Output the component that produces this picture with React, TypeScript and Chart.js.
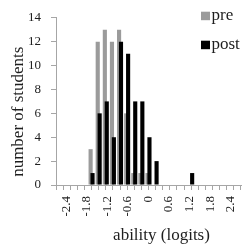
import React, { useEffect, useRef } from 'react';
import { Chart, registerables } from 'chart.js';

Chart.register(...registerables);

// ---- data ----
const binCenters = [
  -2.304, -2.112, -1.92, -1.728, -1.536, -1.344, -1.152, -0.96, -0.768, -0.576,
  -0.384, -0.192, 0, 0.192, 0.384, 0.576, 0.768, 0.96, 1.152, 1.344,
  1.536, 1.728, 1.92, 2.112, 2.304,
];
const preCounts = [0, 0, 0, 0, 3, 12, 13, 12, 13, 6, 1, 1, 1, 0, 0, 0, 0, 0, 0, 0, 0, 0, 0, 0, 0];
const postCounts = [0, 0, 0, 0, 1, 6, 7, 4, 12, 11, 7, 7, 4, 2, 0, 0, 0, 0, 1, 0, 0, 0, 0, 0, 0];
const seriesNames = ['pre', 'post'];
const xTickValues = [-2.4, -1.8, -1.2, -0.6, 0, 0.6, 1.2, 1.8, 2.4];
const xTickLabels = ['-2.4', '-1.8', '-1.2', '-0.6', '0', '0.6', '1.2', '1.8', '2.4'];
const yTickValues = [0, 2, 4, 6, 8, 10, 12, 14];
const xTitle = 'ability (logits)';
const yTitle = 'number of students';

// ---- styles ----
const FONT_FAMILY = '"Liberation Serif", "Times New Roman", serif';
const TEXT_COLOR = '#1e1e1e';
const AXIS_COLOR = '#a6a6a6';
const PRE_COLOR = '#9b9b9b';
const POST_COLOR = '#000000';
const X_MIN = -2.4;
const X_MAX = 2.4;

// bin edges (tick marks) derived from bin centres
function binEdges(): number[] {
  const edges: number[] = [X_MIN];
  for (let i = 1; i < binCenters.length; i++) {
    edges.push((binCenters[i - 1] + binCenters[i]) / 2);
  }
  edges.push(X_MAX);
  return edges;
}

// draw datasets in index order so the later (post) series lies on top
const drawOrderPlugin = {
  id: 'drawOrder',
  beforeDatasetsDraw(chart: any) {
    const metas = chart.getSortedVisibleDatasetMetas();
    for (const m of metas) m.controller.draw();
    return false;
  },
};

const legendPlugin = {
  id: 'cornerLegend',
  afterDraw(chart: any) {
    const ctx = chart.ctx;
    ctx.save();
    ctx.font = `17px ${FONT_FAMILY}`;
    ctx.textBaseline = 'alphabetic';
    ctx.textAlign = 'left';
    chart.data.datasets.forEach((ds: any, i: number) => {
      const top = 11.7 + i * 29;
      ctx.fillStyle = ds.backgroundColor;
      ctx.fillRect(201, top, 9, 8.5);
      ctx.fillStyle = TEXT_COLOR;
      ctx.fillText(ds.label, 211.5, top + 8.7);
    });
    ctx.restore();
  },
};

const titlesPlugin = {
  id: 'axisTitles',
  afterDraw(chart: any) {
    const ctx = chart.ctx;
    ctx.save();
    ctx.font = `17px ${FONT_FAMILY}`;
    ctx.fillStyle = TEXT_COLOR;
    ctx.textAlign = 'center';
    ctx.textBaseline = 'alphabetic';
    ctx.fillText(xTitle, 161.5, 240);
    ctx.translate(22.8, 111.7);
    ctx.rotate(-Math.PI / 2);
    ctx.fillText(yTitle, 0, 0);
    ctx.restore();
  },
};

export default function App() {
  const canvasRef = useRef<HTMLCanvasElement | null>(null);

  useEffect(() => {
    if (!canvasRef.current) return;
    const tickFont = { family: FONT_FAMILY, size: 13 };
    const chart = new Chart(canvasRef.current, {
      type: 'bar',
      data: {
        datasets: [
          {
            label: seriesNames[0],
            data: binCenters.map((x, i) => ({ x, y: preCounts[i] })),
            backgroundColor: PRE_COLOR,
            xAxisID: 'xb',
            yAxisID: 'y',
            categoryPercentage: 0.54,
            barPercentage: 2.15,
            borderWidth: 0,
          },
          {
            label: seriesNames[1],
            data: binCenters.map((x, i) => ({ x, y: postCounts[i] })),
            backgroundColor: POST_COLOR,
            xAxisID: 'xb',
            yAxisID: 'y',
            categoryPercentage: 0.54,
            barPercentage: 2.15,
            borderWidth: 0,
          },
        ],
      },
      options: {
        responsive: false,
        animation: false,
        events: [],
        layout: { padding: { left: 0, right: 9, top: 15, bottom: 0 } },
        plugins: {
          legend: { display: false },
          tooltip: { enabled: false },
          title: { display: false },
        },
        scales: {
          xb: {
            type: 'linear',
            axis: 'x',
            position: 'bottom',
            weight: 0,
            min: X_MIN,
            max: X_MAX,
            afterBuildTicks: (s: any) => {
              s.ticks = binEdges().map((v) => ({ value: v }));
            },
            afterFit: (s: any) => {
              s.height = 5;
              s.paddingLeft = 0;
              s.paddingRight = 0;
            },
            ticks: { display: false },
            grid: {
              display: true,
              drawOnChartArea: false,
              drawTicks: true,
              tickLength: 5,
              tickColor: AXIS_COLOR,
              tickWidth: 1,
            },
            border: { display: true, color: AXIS_COLOR, width: 1 },
          },
          x: {
            type: 'linear',
            position: 'bottom',
            weight: 1,
            min: X_MIN,
            max: X_MAX,
            afterBuildTicks: (s: any) => {
              s.ticks = xTickValues.map((v) => ({ value: v }));
            },
            afterFit: (s: any) => {
              s.height = 60;
              s.paddingLeft = 0;
              s.paddingRight = 0;
            },
            ticks: {
              autoSkip: false,
              minRotation: 90,
              maxRotation: 90,
              padding: 6,
              font: tickFont,
              color: TEXT_COLOR,
              callback: (_v: any, i: number) => xTickLabels[i],
            },
            grid: { display: false, drawTicks: false },
            border: { display: false },
          },
          y: {
            type: 'linear',
            position: 'left',
            min: 0,
            max: 14,
            afterBuildTicks: (s: any) => {
              s.ticks = yTickValues.map((v) => ({ value: v }));
            },
            afterFit: (s: any) => {
              s.width = 56;
            },
            ticks: {
              padding: 10,
              font: tickFont,
              color: TEXT_COLOR,
              callback: (v: any) => String(v),
            },
            grid: {
              display: true,
              drawOnChartArea: false,
              drawTicks: true,
              tickLength: 5,
              tickColor: AXIS_COLOR,
            },
            border: { display: true, color: AXIS_COLOR, width: 1 },
          },
        },
      } as any,
      plugins: [drawOrderPlugin, legendPlugin, titlesPlugin],
    });
    return () => chart.destroy();
  }, []);

  return (
    <div style={{ position: 'absolute', left: 0, top: 0, width: 250, height: 250, background: '#fff' }}>
      <canvas ref={canvasRef} width={250} height={250} style={{ display: 'block' }} />
    </div>
  );
}
